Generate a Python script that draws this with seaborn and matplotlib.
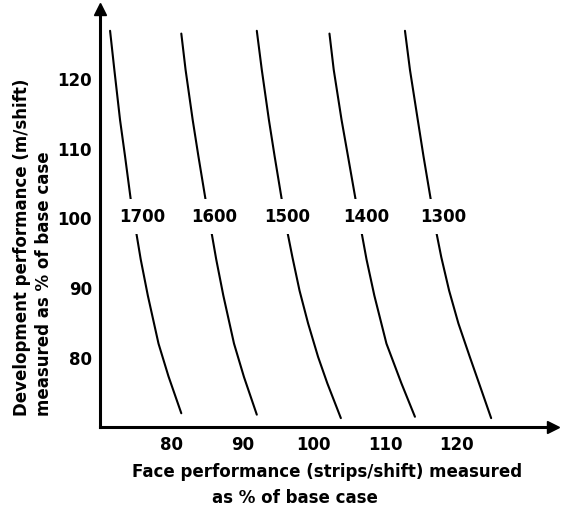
import matplotlib
matplotlib.use("Agg")
import matplotlib.pyplot as plt
import seaborn as sns
import pandas as pd

# ---- data ----
levels = ["1700", "1600", "1500", "1400", "1300"]

face_1700 = [71.4, 72.0, 72.8, 73.5, 74.3, 75.0, 75.7, 76.7, 78.2, 79.6, 81.4]
dev_1700 = [126.9, 121.3, 114.1, 108.9, 102.7, 98.4, 94.1, 88.9, 82.0, 77.3, 72.0]

face_1600 = [81.4, 82.0, 83.0, 83.8, 84.8, 85.6, 86.3, 87.3, 88.8, 90.2, 92.0]
dev_1600 = [126.5, 121.3, 114.1, 108.9, 102.7, 98.2, 94.1, 88.9, 82.0, 77.2, 71.8]

face_1500 = [92.0, 92.7, 93.7, 94.5, 95.5, 96.3, 97.0, 98.0, 99.2, 100.6, 101.9, 103.8]
dev_1500 = [126.9, 121.3, 114.1, 108.9, 102.7, 98.0, 94.4, 89.6, 84.9, 80.1, 76.3, 71.3]

face_1400 = [102.2, 102.8, 103.9, 104.8, 105.9, 106.7, 107.4, 108.5, 110.2, 112.3, 114.2]
dev_1400 = [126.5, 121.3, 114.1, 108.9, 102.5, 98.0, 94.1, 88.9, 82.0, 76.3, 71.5]

face_1300 = [112.8, 113.5, 114.6, 115.4, 116.5, 117.2, 117.9, 119.0, 120.3, 121.9, 123.2, 124.9]
dev_1300 = [126.9, 121.3, 114.1, 108.9, 102.2, 98.0, 94.4, 89.6, 84.9, 80.1, 76.3, 71.3]

label_x = [75.9, 86.0, 96.2, 107.3, 118.2]
label_y = [100.2, 100.2, 100.2, 100.2, 100.2]

x_ticks = [80, 90, 100, 110, 120]
y_ticks = [80, 90, 100, 110, 120]

curves = {
    "1700": (face_1700, dev_1700),
    "1600": (face_1600, dev_1600),
    "1500": (face_1500, dev_1500),
    "1400": (face_1400, dev_1400),
    "1300": (face_1300, dev_1300),
}

rows = []
for lvl in levels:
    xs, ys = curves[lvl]
    for i, (x, y) in enumerate(zip(xs, ys)):
        rows.append({"level": lvl, "order": i, "face": x, "dev": y})
df = pd.DataFrame(rows)

sns.set_style("white")
plt.rcParams["font.family"] = ["DejaVu Sans"]
plt.rcParams["font.weight"] = "bold"
plt.rcParams["text.color"] = "black"
plt.rcParams["xtick.color"] = "black"
plt.rcParams["ytick.color"] = "black"
plt.rcParams["xtick.labelcolor"] = "black"
plt.rcParams["ytick.labelcolor"] = "black"

fig = plt.figure(figsize=(5.72, 5.11), dpi=100)
ax = fig.add_axes([0.175, 0.164, 0.792, 0.818])

for lvl in levels:
    sub = df[df["level"] == lvl]
    sns.lineplot(data=sub, x="face", y="dev", sort=False, estimator=None,
                 color="black", lw=1.5, ax=ax)

for lbl, lx, ly in zip(levels, label_x, label_y):
    ax.text(lx, ly, lbl, ha="center", va="center", fontsize=12, fontweight="bold",
            color="black",
            bbox=dict(facecolor="white", edgecolor="none", pad=6), zorder=5)

ax.set_xlim(70, 133.6)
ax.set_ylim(70, 130)
ax.set_xticks(x_ticks)
ax.set_yticks(y_ticks)
ax.tick_params(axis="both", labelsize=12, length=4, width=1.5, pad=2,
               direction="out", colors="black")
for t in ax.get_xticklabels() + ax.get_yticklabels():
    t.set_fontweight("bold")
ax.set_xlabel("")
ax.set_ylabel("")

for s in ["top", "right"]:
    ax.spines[s].set_visible(False)
for s in ["left", "bottom"]:
    ax.spines[s].set_linewidth(2.2)
    ax.spines[s].set_color("black")

ax.plot(1, 0, marker=">", color="black", ms=9, transform=ax.transAxes, clip_on=False)
ax.plot(0, 1, marker="^", color="black", ms=9, transform=ax.transAxes, clip_on=False)

fig.text(0.572, 0.076, "Face performance (strips/shift) measured",
         ha="center", va="center", fontsize=12, fontweight="bold", color="black")
fig.text(0.516, 0.025, "as % of base case",
         ha="center", va="center", fontsize=12, fontweight="bold", color="black")
fig.text(0.058, 0.186, "Development performance (m/shift)\nmeasured as % of base case",
         rotation=90, ha="center", va="bottom", multialignment="left",
         fontsize=12, fontweight="bold", linespacing=1.25, color="black")

fig.savefig("out.png", dpi=100, facecolor="white")
